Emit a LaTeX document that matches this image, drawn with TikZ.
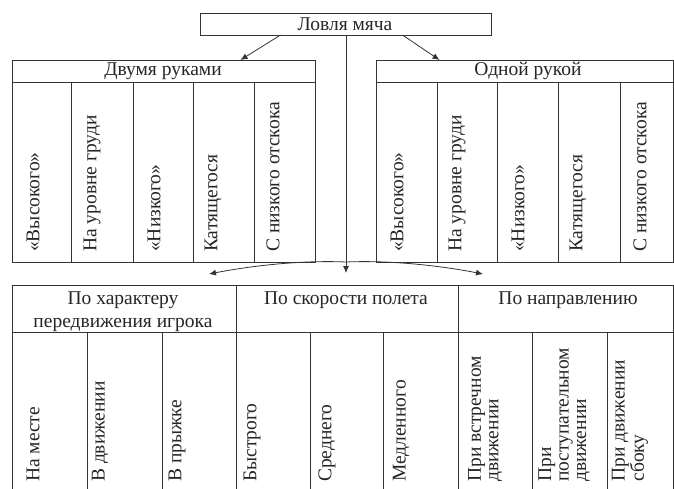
\documentclass[tikz,border=0pt]{standalone}
\usepackage{fontspec}
\setmainfont{Liberation Serif}
\usetikzlibrary{arrows.meta,calc}
\begin{document}
\begin{tikzpicture}[x=1pt,y=-1pt,
  line/.style={draw=black!80,line width=0.8pt},
  cell/.style={line,rectangle,inner sep=0pt,outer sep=0pt,anchor=north west},
  vtext/.style={rotate=90,anchor=west,inner sep=0pt,align=left,
    font=\fontsize{19.5}{17.5}\selectfont,text=black!85},
  htext/.style={inner sep=0pt,align=center,font=\fontsize{19.5}{23}\selectfont,text=black!85},
  arr/.style={line,-{Latex[length=7pt,width=6pt]}}]
\useasboundingbox (0,0) rectangle (674,488);
\fill[white] (0,0) rectangle (674,488);

% top box
\node[cell,minimum width=291pt,minimum height=22pt] (top) at (200,13) {};
\node[htext] (toptxt) at (345,24) {Ловля мяча};

% left table
\node[cell,minimum width=303pt,minimum height=22pt] (lh) at (12,60) {};
\node[htext] (lhtxt) at (163,71) {Двумя руками};
\node[cell,minimum width=59pt,minimum height=180pt] (L1) at (12,82) {};
\node[cell,minimum width=62pt,minimum height=180pt] (L2) at (71,82) {};
\node[cell,minimum width=60pt,minimum height=180pt] (L3) at (133,82) {};
\node[cell,minimum width=61pt,minimum height=180pt] (L4) at (193,82) {};
\node[cell,minimum width=61pt,minimum height=180pt] (L5) at (254,82) {};
\node[vtext] (L1t) at (33,252) {«Высокого»};
\node[vtext] (L2t) at (92,252) {На уровне груди};
\node[vtext] (L3t) at (154,252) {«Низкого»};
\node[vtext] (L4t) at (213,252) {Катящегося};
\node[vtext] (L5t) at (273,252) {С низкого отскока};

% right table
\node[cell,minimum width=297pt,minimum height=22pt] (rh) at (376,60) {};
\node[htext] (rhtxt) at (528,71) {Одной рукой};
\node[cell,minimum width=61pt,minimum height=180pt] (R1) at (376,82) {};
\node[cell,minimum width=60pt,minimum height=180pt] (R2) at (437,82) {};
\node[cell,minimum width=61pt,minimum height=180pt] (R3) at (497,82) {};
\node[cell,minimum width=62pt,minimum height=180pt] (R4) at (558,82) {};
\node[cell,minimum width=53pt,minimum height=180pt] (R5) at (620,82) {};
\node[vtext] (R1t) at (397,252) {«Высокого»};
\node[vtext] (R2t) at (457,252) {На уровне груди};
\node[vtext] (R3t) at (518,252) {«Низкого»};
\node[vtext] (R4t) at (578,252) {Катящегося};
\node[vtext] (R5t) at (640,252) {С низкого отскока};

% bottom table headers
\node[cell,minimum width=224pt,minimum height=47pt] (B1) at (12,285) {};
\node[cell,minimum width=222pt,minimum height=47pt] (B2) at (236,285) {};
\node[cell,minimum width=215pt,minimum height=47pt] (B3) at (458,285) {};
\node[htext] (B1txt) at (123,311.5) {По характеру\\передвижения игрока};
\node[htext] (B2txt) at (346,300) {По скорости полета};
\node[htext] (B3txt) at (568,300) {По направлению};

% bottom table columns
\node[cell,minimum width=75pt,minimum height=165pt] (C1) at (12,332) {};
\node[cell,minimum width=75pt,minimum height=165pt] (C2) at (87,332) {};
\node[cell,minimum width=74pt,minimum height=165pt] (C3) at (162,332) {};
\node[cell,minimum width=74pt,minimum height=165pt] (C4) at (236,332) {};
\node[cell,minimum width=73pt,minimum height=165pt] (C5) at (310,332) {};
\node[cell,minimum width=75pt,minimum height=165pt] (C6) at (383,332) {};
\node[cell,minimum width=74pt,minimum height=165pt] (C7) at (458,332) {};
\node[cell,minimum width=75pt,minimum height=165pt] (C8) at (532,332) {};
\node[cell,minimum width=66pt,minimum height=165pt] (C9) at (607,332) {};
\node[vtext] (C1t) at (33,482) {На месте};
\node[vtext] (C2t) at (100,482) {В движении};
\node[vtext] (C3t) at (177,482) {В прыжке};
\node[vtext] (C4t) at (252,482) {Быстрого};
\node[vtext] (C5t) at (327,482) {Среднего};
\node[vtext] (C6t) at (401,482) {Медленного};
\node[vtext] (C7t) at (485,482) {При встречном\\движении};
\node[vtext] (C8t) at (564,482) {При\\поступательном\\движении};
\node[vtext] (C9t) at (630,482) {При движении\\сбоку};

% connectors
\draw[arr] ([xshift=-65pt]top.south) -- ([xshift=77pt]lh.north);
\draw[arr] ([xshift=57pt]top.south) -- ([xshift=-85pt]rh.north);
\coordinate (split) at (346,262);
\coordinate (downtip) at (346,273);
\coordinate (lefttip) at (209,274);
\coordinate (righttip) at (483,274);
\draw[line] (top.south -| split) -- (split);
\draw[arr] (split) -- (downtip);
\draw[arr] (split) .. controls (300,260) and (250,266) .. (lefttip);
\draw[arr] (split) .. controls (392,260) and (442,266) .. (righttip);
\end{tikzpicture}
\end{document}
